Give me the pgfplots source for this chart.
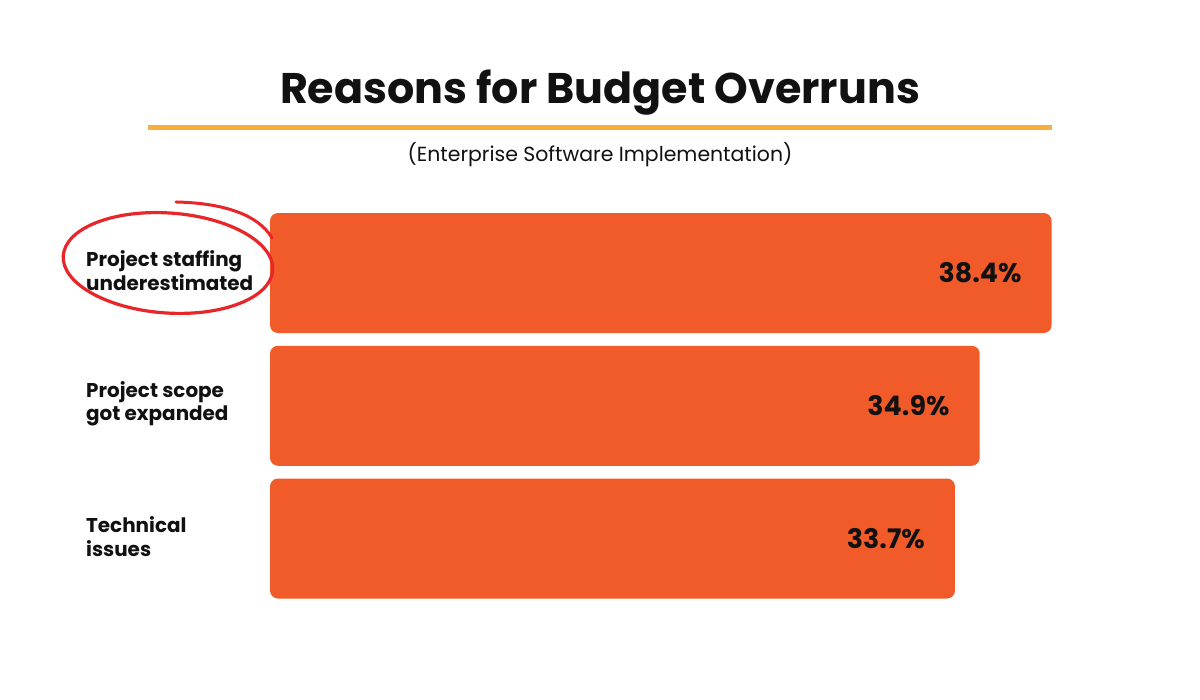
\documentclass[border=0pt]{standalone}
\usepackage{fontspec}
\setmainfont{Poppins}
\usepackage{pgfplots}
\pgfplotsset{compat=1.18}
\definecolor{barorange}{RGB}{241,91,41}
\definecolor{ruleorange}{RGB}{248,174,60}
\definecolor{circlered}{RGB}{232,38,42}
\definecolor{ink}{RGB}{17,17,17}
\begin{document}
\begin{tikzpicture}[x=1bp,y=1bp]
% canvas
\path[fill=white] (0,0) rectangle (1200,700);
% title block
\node[anchor=base, inner sep=0pt, text=ink, font=\fontsize{43}{50}\selectfont\bfseries] at (600,596) {Reasons for Budget Overruns};
\draw[ruleorange, line width=5bp] (148,572) -- (1052,572);
\node[anchor=base, inner sep=0pt, text=ink, font=\fontsize{20.5}{24}\selectfont] at (600,538) {(Enterprise Software Implementation)};
% bars
\begin{axis}[
  at={(270bp,95.1bp)}, anchor=south west,
  xbar, x=20.57bp, y=132.75bp,
  xmin=0.4, xmax=40, ymin=-0.5, ymax=2.5,
  bar width=120bp,
  axis x line=none, axis y line=left,
  axis line style={draw=none},
  major tick length=0pt,
  ytick={0,1,2},
  yticklabels={{Technical\\issues},{Project scope\\got expanded},{Project staffing\\underestimated}},
  yticklabel style={anchor=west, align=left, xshift=-184bp, yshift=2bp, inner sep=0pt, text=ink,
    font=\fontsize{20}{24}\selectfont\bfseries},
  point meta=x,
  nodes near coords={\pgfmathprintnumber[fixed,fixed zerofill,precision=1]{\pgfplotspointmeta}\%},
  /pgf/number format/assume math mode=true,
  every node near coord/.append style={anchor=east, xshift=-30bp, inner sep=0pt, text=ink,
    font=\fontsize{27}{30}\selectfont\bfseries},
]
\addplot[fill=barorange, draw=none, rounded corners=8bp] coordinates {(38.4,2) (34.9,1) (33.7,0)};
\end{axis}
% hand-drawn highlight around the first category
\draw[circlered, line width=3.2bp, rotate around={-4:(168,437)}] (168,437) ellipse [x radius=105, y radius=50];
\draw[circlered, line width=3bp, line cap=round] (176,498) .. controls (222,497) and (258,486) .. (272,462);
\end{tikzpicture}
\end{document}
